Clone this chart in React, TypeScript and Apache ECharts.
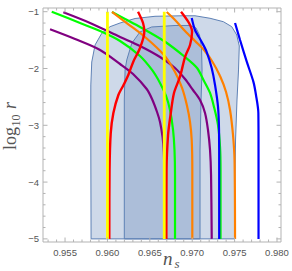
import React, { useEffect, useRef } from "react";
import * as echarts from "echarts";

const X_MIN = 0.9524;
const X_MAX = 0.98047;
const Y_MIN = -5.055;
const Y_MAX = -0.935;

const xTickLabels = [0.955, 0.96, 0.965, 0.97, 0.975, 0.98];
const xMinorTicks = [0.953, 0.954, 0.956, 0.957, 0.958, 0.959, 0.961, 0.962, 0.963, 0.964, 0.966, 0.967, 0.968, 0.969, 0.971, 0.972, 0.973, 0.974, 0.976, 0.977, 0.978, 0.979];
const yTickLabels = [-5, -4, -3, -2, -1];
const yMinorTicks = [-4.8, -4.6, -4.4, -4.2, -3.8, -3.6, -3.4, -3.2, -2.8, -2.6, -2.4, -2.2, -1.8, -1.6, -1.4, -1.2];

// Planck contours (ns, log10 r)
const region95 = [
  [0.95807, -5.0], [0.95803, -2.907], [0.95804, -2.29], [0.95815, -1.886], [0.95854, -1.586],
  [0.95933, -1.38], [0.96031, -1.264], [0.96149, -1.199], [0.96326, -1.12], [0.96561, -1.081],
  [0.9688, -1.072], [0.97033, -1.072], [0.9721, -1.116], [0.97367, -1.176], [0.97466, -1.264],
  [0.97525, -1.41], [0.97555, -1.604], [0.97546, -2.026], [0.97528, -2.555], [0.97511, -3.259],
  [0.97502, -4.139], [0.97499, -5.0],
];
const region68 = [
  [0.96199, -5.0], [0.96199, -2.555], [0.96208, -2.026], [0.96228, -1.85], [0.96287, -1.556],
  [0.96384, -1.357], [0.96522, -1.269], [0.96797, -1.243], [0.96974, -1.243], [0.97045, -1.287],
  [0.97086, -1.41], [0.9711, -1.639], [0.97116, -2.026], [0.97104, -2.555], [0.97092, -3.435],
  [0.97092, -5.0],
];

const yellowA = [[0.96, -1.0], [0.96, -5.0]];
const yellowB = [[0.9667, -1.0], [0.9667, -5.0]];

const redA = [
  [0.96361, -1.0], [0.9642, -1.199], [0.96435, -1.352], [0.96384, -1.639], [0.96305, -1.88],
  [0.96246, -2.114], [0.9619, -2.29], [0.96129, -2.467], [0.9607, -2.783], [0.96039, -3.136],
  [0.96025, -3.787], [0.96022, -5.0],
];
const redB = [
  [0.96868, -1.0], [0.96962, -1.199], [0.96998, -1.352], [0.96974, -1.586], [0.96915, -1.798],
  [0.96856, -2.144], [0.96785, -2.431], [0.96744, -2.819], [0.96715, -3.171], [0.96697, -3.787],
  [0.96695, -5.0],
];
const purpleA = [
  [0.95323, -1.31], [0.95618, -1.481], [0.95913, -1.674], [0.96149, -1.921], [0.96302, -2.097],
  [0.96463, -2.361], [0.96526, -2.537], [0.96585, -2.766], [0.9662, -2.942], [0.9665, -3.206],
  [0.96665, -3.47], [0.96671, -3.875], [0.96673, -5.0],
];
const purpleB = [
  [0.9548, -1.011], [0.95795, -1.199], [0.96149, -1.445], [0.96384, -1.604], [0.9662, -1.798],
  [0.96797, -1.991], [0.96915, -2.185], [0.97009, -2.379], [0.97092, -2.555], [0.97151, -2.783],
  [0.97186, -3.083], [0.9721, -3.435], [0.97222, -3.875], [0.9723, -5.0],
];
const greenA = [
  [0.95343, -1.0], [0.95677, -1.199], [0.95913, -1.34], [0.96149, -1.516], [0.96384, -1.78],
  [0.96526, -2.026], [0.9662, -2.255], [0.96691, -2.484], [0.96738, -2.731], [0.96774, -3.083],
  [0.96791, -3.435], [0.96797, -3.875], [0.96797, -5.0],
];
const greenB = [
  [0.96054, -1.005], [0.96208, -1.129], [0.96384, -1.269], [0.96667, -1.516], [0.96915, -1.798],
  [0.97057, -1.991], [0.97139, -2.22], [0.9721, -2.431], [0.97257, -2.678], [0.97304, -2.995],
  [0.97328, -3.382], [0.97334, -3.787], [0.97334, -5.0],
];
const orangeA = [
  [0.96054, -1.005], [0.96243, -1.217], [0.96443, -1.445], [0.96667, -1.762], [0.96797, -2.062],
  [0.9688, -2.343], [0.96939, -2.66], [0.96974, -2.942], [0.96994, -3.259], [0.97001, -3.787],
  [0.97001, -5.0],
];
const orangeB = [
  [0.96699, -1.005], [0.96797, -1.146], [0.96915, -1.34], [0.97033, -1.516], [0.97139, -1.674],
  [0.97233, -1.868], [0.97328, -2.132], [0.97399, -2.414], [0.97446, -2.731], [0.97481, -3.171],
  [0.97499, -3.611], [0.97505, -5.0],
];
const blueA = [
  [0.96994, -1.111], [0.97033, -1.322], [0.97112, -1.533], [0.97171, -1.71], [0.9723, -1.996],
  [0.97269, -2.29], [0.97304, -2.673], [0.97316, -3.083], [0.97318, -3.787], [0.97318, -5.0],
];
const blueB = [
  [0.97505, -1.199], [0.97564, -1.498], [0.97643, -1.88], [0.97721, -2.232], [0.97752, -2.467],
  [0.9778, -2.783], [0.97782, -3.435], [0.97782, -5.0],
];

const FRAME = "#b3b3b3";
const LABEL = "#555555";
const REGION_FILL = "rgba(94,129,181,0.3)";
const REGION_STROKE = "#5e81b5";

function tickSeries(values: number[], dim: "x" | "y", len: number) {
  return {
    type: "custom",
    silent: true,
    clip: false,
    z: 6,
    encode: { x: 0, y: 1 },
    data: values.map((v) => (dim === "x" ? [v, Y_MIN] : [X_MIN, v])),
    renderItem: (_p: any, api: any) => {
      const style = { stroke: FRAME, lineWidth: 1 };
      if (dim === "x") {
        const v = api.value(0);
        const b = api.coord([v, Y_MIN]);
        const t = api.coord([v, Y_MAX]);
        return {
          type: "group",
          children: [
            { type: "line", shape: { x1: b[0], y1: b[1], x2: b[0], y2: b[1] - len }, style },
            { type: "line", shape: { x1: t[0], y1: t[1], x2: t[0], y2: t[1] + len }, style },
          ],
        };
      }
      const v = api.value(1);
      const l = api.coord([X_MIN, v]);
      const r = api.coord([X_MAX, v]);
      return {
        type: "group",
        children: [
          { type: "line", shape: { x1: l[0], y1: l[1], x2: l[0] + len, y2: l[1] }, style },
          { type: "line", shape: { x1: r[0], y1: r[1], x2: r[0] - len, y2: r[1] }, style },
        ],
      };
    },
  };
}

function regionSeries(pts: number[][]) {
  return {
    type: "custom",
    silent: true,
    z: 2,
    encode: { x: 0, y: 1 },
    data: [pts[0]],
    renderItem: (_p: any, api: any) => ({
      type: "polygon",
      shape: { points: pts.map((p) => api.coord(p)) },
      style: { fill: REGION_FILL, stroke: REGION_STROKE, lineWidth: 1 },
    }),
  };
}

function curve(data: number[][], color: string, width: number) {
  return {
    type: "line",
    data,
    showSymbol: false,
    symbol: "none",
    smooth: 0.3,
    silent: true,
    z: 3,
    lineStyle: { color, width },
  };
}

const textStyle = (text: string, font: string) => ({
  text,
  font,
  fill: LABEL,
  textAlign: "left",
  align: "left",
  textVerticalAlign: "middle",
  verticalAlign: "middle",
});

export default function App() {
  const ref = useRef<HTMLDivElement>(null);
  useEffect(() => {
    const chart = echarts.init(ref.current!, null, { renderer: "svg" });
    chart.setOption({
      animation: false,
      grid: { left: 43, right: 11, top: 8, bottom: 29, show: true, borderColor: FRAME, borderWidth: 1, backgroundColor: "transparent" },
      xAxis: {
        type: "value",
        min: X_MIN,
        max: X_MAX,
        axisLine: { show: false },
        axisTick: { show: false },
        splitLine: { show: false },
        axisLabel: {
          customValues: xTickLabels,
          formatter: (v: number) => v.toFixed(3),
          color: LABEL,
          fontSize: 9.5,
          fontFamily: "Liberation Sans",
          margin: 5,
        },
      },
      yAxis: {
        type: "value",
        min: Y_MIN,
        max: Y_MAX,
        axisLine: { show: false },
        axisTick: { show: false },
        splitLine: { show: false },
        axisLabel: {
          customValues: yTickLabels,
          formatter: (v: number) => (v < 0 ? "\u2212" : "") + Math.abs(v).toFixed(0),
          color: LABEL,
          fontSize: 9.5,
          fontFamily: "Liberation Sans",
          margin: 4,
        },
      },
      graphic: [
        { type: "text", x: 163, y: 258.5, style: textStyle("n", 'italic 19px "Liberation Serif"') },
        { type: "text", x: 174.5, y: 263, style: textStyle("s", 'italic 13px "Liberation Serif"') },
        { type: "text", x: 10, y: 150, rotation: Math.PI / 2, style: textStyle("log", '18px "Liberation Serif"') },
        { type: "text", x: 16, y: 126.5, rotation: Math.PI / 2, style: textStyle("10", '12px "Liberation Serif"') },
        { type: "text", x: 10, y: 109, rotation: Math.PI / 2, style: textStyle("r", 'italic 18px "Liberation Serif"') },
      ],
      series: [
        regionSeries(region95),
        regionSeries(region68),
        curve(purpleA, "#800080", 2.2),
        curve(purpleB, "#800080", 2.2),
        curve(greenA, "#00ff00", 2.2),
        curve(greenB, "#00ff00", 2.2),
        curve(orangeA, "#ff8000", 2.2),
        curve(orangeB, "#ff8000", 2.2),
        curve(blueA, "#0000ff", 2.2),
        curve(blueB, "#0000ff", 2.2),
        curve(redA, "#ff0000", 2.4),
        curve(redB, "#ff0000", 2.4),
        curve(yellowA, "#ffff00", 2.8),
        curve(yellowB, "#ffff00", 2.8),
        tickSeries(xTickLabels, "x", 4.5),
        tickSeries(xMinorTicks, "x", 2.5),
        tickSeries(yTickLabels, "y", 4.5),
        tickSeries(yMinorTicks, "y", 2.5),
      ],
    });
    return () => chart.dispose();
  }, []);
  return <div ref={ref} style={{ position: "absolute", left: 0, top: 0, width: 292, height: 271 }} />;
}
